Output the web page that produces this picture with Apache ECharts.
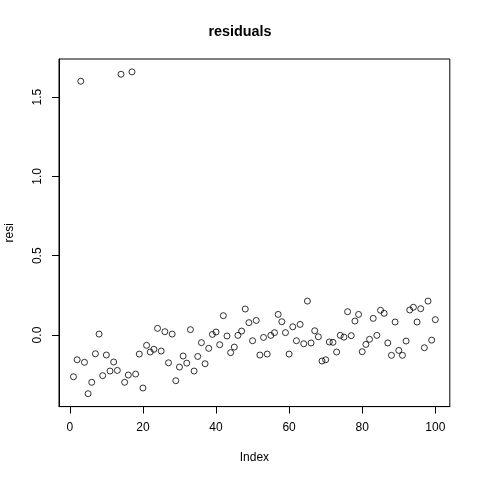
<!DOCTYPE html>
<html>
<head>
<meta charset="utf-8">
<script src="https://cdn.jsdelivr.net/npm/echarts@6/dist/echarts.min.js"></script>
<style>html,body{margin:0;padding:0;background:#fff}#c{width:480px;height:480px}</style>
</head>
<body>
<div id="c"></div>
<script>
const titleText = "residuals";
const xName = "Index";
const yName = "resi";
const xTicks = [0, 20, 40, 60, 80, 100];
const yTicks = [0, 0.5, 1.0, 1.5];
const resi = [
 -0.263, -0.156, 1.600, -0.172, -0.370, -0.298, -0.118, 0.006, -0.256, -0.126,
 -0.227, -0.170, -0.223, 1.644, -0.298, -0.252, 1.659, -0.246, -0.120, -0.334,
 -0.065, -0.107, -0.090, 0.042, -0.101, 0.021, -0.175, 0.006, -0.288, -0.202,
 -0.132, -0.177, 0.034, -0.227, -0.135, -0.048, -0.181, -0.084, 0.004, 0.019,
 -0.061, 0.122, -0.006, -0.111, -0.076, -0.002, 0.025, 0.164, 0.078, -0.036,
 0.092, -0.126, -0.015, -0.120, -0.002, 0.015, 0.130, 0.084, 0.015, -0.120,
 0.052, -0.036, 0.067, -0.055, 0.214, -0.050, 0.027, -0.011, -0.164, -0.156,
 -0.044, -0.046, -0.107, -0.002, -0.013, 0.147, -0.004, 0.088, 0.130, -0.105,
 -0.059, -0.027, 0.105, -0.002, 0.156, 0.137, -0.050, -0.128, 0.082, -0.097,
 -0.128, -0.038, 0.158, 0.175, 0.082, 0.166, -0.080, 0.214, -0.032, 0.097
];

// R-style 4% axis extension
const n = resi.length;
const xr = [1, n];
const xpad = (xr[1] - xr[0]) * 0.04;
const ymin = Math.min(...resi), ymax = Math.max(...resi);
const ypad = (ymax - ymin) * 0.04;

const font = "'Liberation Sans', Arial, Helvetica, sans-serif";
const chart = echarts.init(document.getElementById('c'), null, {renderer: 'canvas'});
chart.setOption({
  animation: false,
  backgroundColor: '#fff',
  title: {
    text: titleText, left: 'center', top: 20,
    textStyle: {fontFamily: font, fontSize: 14.4, fontWeight: 'bold', color: '#000'}
  },
  grid: {
    left: 59, right: 30.2, top: 59, bottom: 73.4,
    containLabel: false, outerBoundsMode: 'none',
    show: true, borderColor: '#000', borderWidth: 1, backgroundColor: 'transparent'
  },
  xAxis: {
    type: 'value', min: xr[0] - xpad, max: xr[1] + xpad,
    name: xName, nameLocation: 'middle', nameGap: 45,
    nameTextStyle: {fontFamily: font, fontSize: 12, color: '#000'},
    splitLine: {show: false},
    axisLine: {show: true, onZero: false, lineStyle: {color: '#000', width: 1}},
    axisTick: {show: true, inside: false, length: 7, customValues: xTicks, lineStyle: {color: '#000', width: 1}},
    axisLabel: {customValues: xTicks, margin: 15, fontFamily: font, fontSize: 12, color: '#000'}
  },
  yAxis: {
    type: 'value', min: ymin - ypad, max: ymax + ypad,
    name: yName, nameLocation: 'middle', nameGap: 43, nameRotate: 90,
    nameTextStyle: {fontFamily: font, fontSize: 12, color: '#000'},
    splitLine: {show: false},
    axisLine: {show: true, onZero: false, lineStyle: {color: '#000', width: 1}},
    axisTick: {show: true, inside: false, length: 7, customValues: yTicks, lineStyle: {color: '#000', width: 1}},
    axisLabel: {customValues: yTicks, rotate: 90, margin: 15, fontFamily: font, fontSize: 12, color: '#000',
      formatter: v => v.toFixed(1)}
  },
  series: [{
    type: 'scatter',
    data: resi.map((v, i) => [i + 1, v]),
    symbol: 'circle', symbolSize: 6,
    itemStyle: {color: 'rgba(0,0,0,0)', borderColor: '#000', borderWidth: 1},
    emphasis: {disabled: true}
  }]
});
</script>
</body>
</html>
